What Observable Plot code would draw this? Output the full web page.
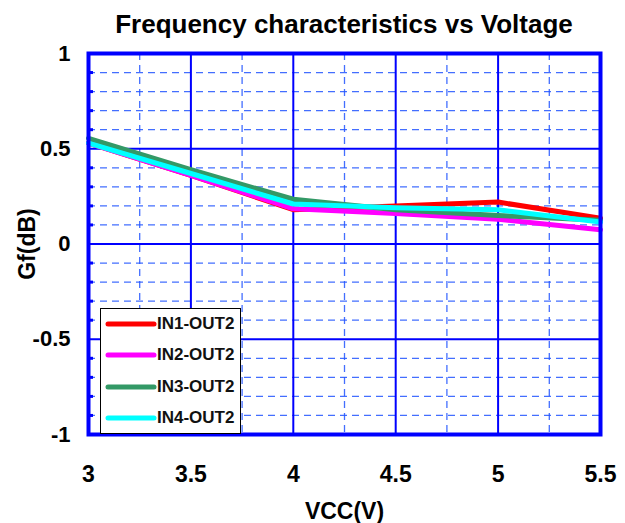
<!DOCTYPE html>
<html><head><meta charset="utf-8">
<script src="https://cdn.jsdelivr.net/npm/d3@7"></script>
<script src="https://cdn.jsdelivr.net/npm/@observablehq/plot@0.6"></script>
<style>
body{margin:0;background:#fff;font-family:"Liberation Sans",Arial,sans-serif;}
#wrap{position:relative;width:625px;height:523px;}
#title{position:absolute;left:88px;width:512px;top:9px;text-align:center;font-weight:bold;font-size:26px;color:#000;white-space:nowrap;}
#legend{position:absolute;left:100px;top:308px;width:141px;height:126px;background:#fff;border:1px solid #000;box-sizing:border-box;}
#legend .row{position:absolute;left:3px;height:20px;display:flex;align-items:center;font-weight:bold;font-size:17px;color:#111;}
g[aria-label="x-axis tick label"]{font-size:23px;}
g[aria-label="y-axis tick label"]{font-size:22px;}
g[aria-label="x-axis label"], g[aria-label="y-axis label"]{font-size:23px;}
</style></head><body>
<div id="wrap"><div id="title"></div></div>
<script>
const title = "Frequency characteristics vs Voltage";
const xLabel = "VCC(V)";
const yLabel = "Gf(dB)";
const vcc = [3, 3.5, 4, 4.5, 5, 5.5];
const seriesNames = ["IN1-OUT2", "IN2-OUT2", "IN3-OUT2", "IN4-OUT2"];
const in1 = [0.53, 0.36, 0.18, 0.20, 0.22, 0.135];
const in2 = [0.53, 0.36, 0.185, 0.16, 0.13, 0.075];
const in3 = [0.555, 0.39, 0.235, 0.18, 0.15, 0.125];
const in4 = [0.53, 0.37, 0.21, 0.19, 0.18, 0.115];
const colors = ["#ff0000", "#ff00ff", "#339966", "#00ffff"];
const xTicks = [3, 3.5, 4, 4.5, 5, 5.5];
const yTicks = [-1, -0.5, 0, 0.5, 1];
const xMinor = [3.25, 3.75, 4.25, 4.75, 5.25];
const yMinor = [-0.9,-0.8,-0.7,-0.6,-0.4,-0.3,-0.2,-0.1,0.1,0.2,0.3,0.4,0.6,0.7,0.8,0.9];

const allSeries = [in1, in2, in3, in4];
const data = [];
allSeries.forEach((vals, i) => vals.forEach((v, j) => data.push({series: seriesNames[i], x: vcc[j], y: v})));

const blue = "#0000ff";
const chart = Plot.plot({
  width: 625, height: 523,
  marginLeft: 88, marginRight: 25, marginTop: 53, marginBottom: 89,
  style: {fontFamily: "'Liberation Sans', Arial, sans-serif", fontWeight: "bold", fontSize: "22px", color: "#000", background: "#fff"},
  x: {domain: [3, 5.5], ticks: xTicks, label: null},
  y: {domain: [-1, 1], ticks: yTicks, label: null},
  color: {domain: seriesNames, range: colors},
  marks: [
    Plot.gridX(xMinor, {stroke: "#2255ff", strokeOpacity: 0.85, strokeWidth: 1.3, strokeDasharray: "7,5"}),
    Plot.gridY(yMinor, {stroke: "#2255ff", strokeOpacity: 0.85, strokeWidth: 1.3, strokeDasharray: "7,5"}),
    Plot.gridX(xTicks, {stroke: blue, strokeOpacity: 1, strokeWidth: 2}),
    Plot.gridY(yTicks, {stroke: blue, strokeOpacity: 1, strokeWidth: 2}),
    Plot.axisY(yMinor, {tickSize: -5, text: null, stroke: blue, strokeWidth: 3}),
    Plot.line(data, {x: "x", y: "y", z: "series", stroke: "series", strokeWidth: 5, strokeLinejoin: "round"}),
    Plot.frame({stroke: blue, strokeWidth: 4}),
    Plot.axisX(xTicks, {tickSize: 0, tickPadding: 31, fontSize: 23, fontWeight: "bold", tickFormat: d => String(d), label: xLabel, labelArrow: "none", labelAnchor: "center", labelOffset: 84}),
    Plot.axisY(yTicks, {tickSize: 0, tickPadding: 18, fontSize: 22, fontWeight: "bold", tickFormat: d => String(d), label: yLabel, labelArrow: "none", labelAnchor: "center", labelOffset: 70})
  ]
});
const wrap = document.getElementById("wrap");
wrap.insertBefore(chart, wrap.firstChild);
document.getElementById("title").textContent = title;

const legend = document.createElement("div");
legend.id = "legend";
const rowTops = [5, 36, 68, 99];
seriesNames.forEach((name, i) => {
  const row = document.createElement("div");
  row.className = "row";
  row.style.top = rowTops[i] + "px";
  row.innerHTML = `<svg width="53" height="20"><line x1="4" x2="50" y1="10" y2="10" stroke="${colors[i]}" stroke-width="5" stroke-linecap="round"/></svg><span>${name}</span>`;
  legend.appendChild(row);
});
wrap.appendChild(legend);
</script>
</body></html>
